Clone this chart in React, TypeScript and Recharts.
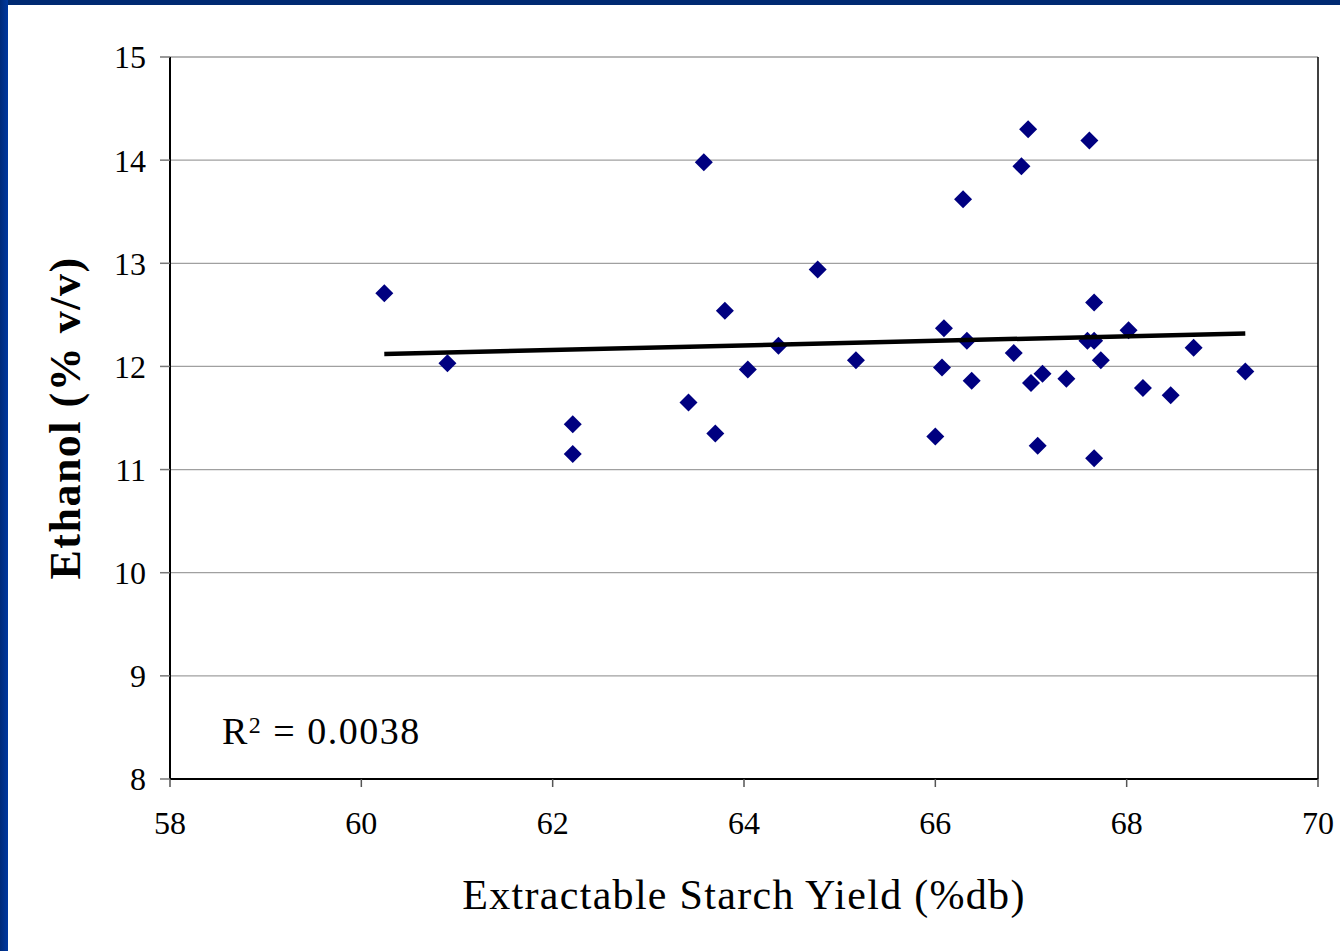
import React from 'react';
import { ScatterChart, Scatter, XAxis, YAxis, CartesianGrid, ReferenceLine, Label } from 'recharts';

// extractable starch yield (%db) and ethanol (% v/v)
const starchYield = [
  60.24, 60.9, 62.21, 62.21, 63.42, 63.58, 63.7, 63.8, 64.04, 64.36, 64.77, 65.17,
  66.0, 66.07, 66.09, 66.29, 66.33, 66.38, 66.82, 66.9, 66.97, 67.0, 67.07, 67.12,
  67.37, 67.61, 67.59, 67.66, 67.66, 67.66, 67.73, 68.02, 68.17, 68.46, 68.7, 69.24,
];
const ethanol = [
  12.71, 12.03, 11.44, 11.15, 11.65, 13.98, 11.35, 12.54, 11.97, 12.2, 12.94, 12.06,
  11.32, 11.99, 12.37, 13.62, 12.25, 11.86, 12.13, 13.94, 14.3, 11.84, 11.23, 11.93,
  11.88, 14.19, 12.25, 12.62, 12.25, 11.11, 12.06, 12.35, 11.79, 11.72, 12.18, 11.95,
];

// linear trend endpoints
const trendX = [60.24, 69.24];
const trendY = [12.12, 12.32];

const xTicks = [58, 60, 62, 64, 66, 68, 70];
const yTicks = [8, 9, 10, 11, 12, 13, 14, 15];

const points = starchYield.map((x, i) => ({ x, y: ethanol[i] }));
const trend = trendX.map((x, i) => ({ x, y: trendY[i] }));

const FONT = '"Liberation Serif", "Times New Roman", serif';

const Diamond = (props: any) => {
  const { cx, cy } = props;
  const r = 9;
  return (
    <polygon
      points={`${cx},${cy - r} ${cx + r},${cy} ${cx},${cy + r} ${cx - r},${cy}`}
      fill="#000080"
    />
  );
};

export default function App() {
  return (
    <div style={{ position: 'absolute', left: 0, top: 0, width: 1340, height: 951, background: '#fff', overflow: 'hidden' }}>
      <ScatterChart width={1340} height={951} margin={{ top: 57, right: 22, bottom: 112, left: 40 }}>
        <CartesianGrid vertical={false} stroke="#a0a0a0" strokeWidth={1.3} />
        <XAxis
          type="number"
          dataKey="x"
          domain={[58, 70]}
          ticks={xTicks}
          height={60}
          tickSize={8}
          tickMargin={24}
          axisLine={{ stroke: '#000', strokeWidth: 2 }}
          tickLine={{ stroke: '#555', strokeWidth: 1.5 }}
          tick={{ fill: '#000', fontSize: 32, fontFamily: FONT }}
        >
          <Label
            value="Extractable Starch Yield (%db)"
            position="bottom"
            offset={40}
            style={{ fill: '#000', fontSize: 42, letterSpacing: 1.3, fontFamily: FONT }}
          />
        </XAxis>
        <YAxis
          type="number"
          dataKey="y"
          domain={[8, 15]}
          ticks={yTicks}
          width={130}
          tickSize={10}
          tickMargin={14}
          axisLine={{ stroke: '#000', strokeWidth: 2 }}
          tickLine={{ stroke: '#777', strokeWidth: 1.5 }}
          tick={{ fill: '#000', fontSize: 32, fontFamily: FONT }}
        >
          <Label
            value="Ethanol (% v/v)"
            angle={-90}
            position="insideLeft"
            offset={24}
            style={{ fill: '#000', fontSize: 44, letterSpacing: 1.5, fontWeight: 'bold', fontFamily: FONT, textAnchor: 'middle' }}
          />
        </YAxis>
        <ReferenceLine x={70} stroke="#000" strokeWidth={1.5} />
        <Scatter data={points} shape={Diamond} isAnimationActive={false} />
        <Scatter
          data={trend}
          line={{ stroke: '#000', strokeWidth: 4.5 }}
          shape={() => null}
          isAnimationActive={false}
        />
      </ScatterChart>
      <div
        style={{
          position: 'absolute',
          left: 222,
          top: 707,
          fontFamily: FONT,
          fontSize: 38,
          letterSpacing: 1.5,
          color: '#000',
          lineHeight: '48px',
          whiteSpace: 'pre',
        }}
      >
        R<sup style={{ fontSize: 24, verticalAlign: 'top', position: 'relative', top: -6 }}>2</sup> = 0.0038
      </div>
      <div style={{ position: 'absolute', left: 0, top: 0, width: 1340, height: 5, background: '#002a72' }} />
      <div
        style={{
          position: 'absolute',
          left: 0,
          top: 0,
          width: 8,
          height: 951,
          background: 'linear-gradient(to right, #002a78, #0038a0)',
        }}
      />
    </div>
  );
}
